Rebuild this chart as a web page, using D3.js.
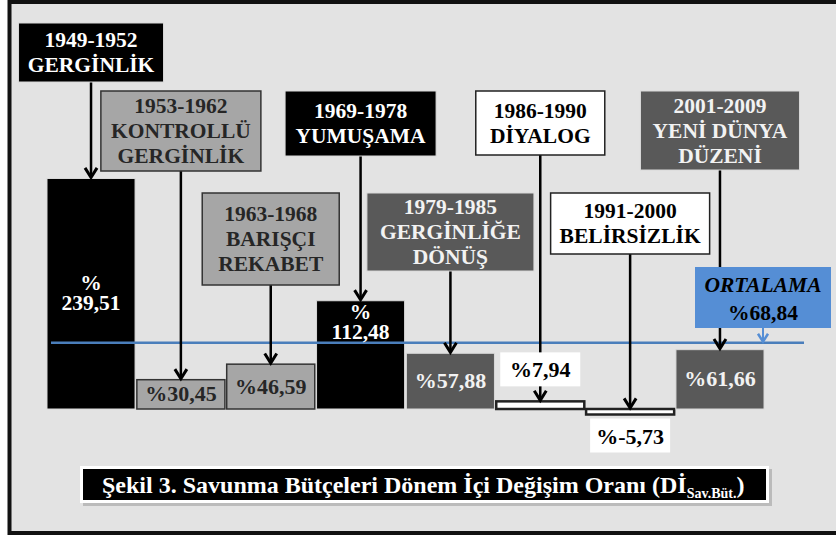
<!DOCTYPE html>
<html>
<head>
<meta charset="utf-8">
<script src="https://cdn.jsdelivr.net/npm/d3@7"></script>
<style>
  body { margin: 0; background: #fff; }
  text { font-family: "Liberation Serif", "Times New Roman", serif; font-weight: bold; }
</style>
</head>
<body>
<script>
// data
const periods = ["1949-1952", "1953-1962", "1963-1968", "1969-1978", "1979-1985", "1986-1990", "1991-2000", "2001-2009"];
const phases = [["GERGİNLİK"], ["KONTROLLÜ", "GERGİNLİK"], ["BARIŞÇI", "REKABET"], ["YUMUŞAMA"],
  ["GERGİNLİĞE", "DÖNÜŞ"], ["DİYALOG"], ["BELİRSİZLİK"], ["YENİ DÜNYA", "DÜZENİ"]];
const values = [239.51, 30.45, 46.59, 112.48, 57.88, 7.94, -5.73, 61.66];
const meanValue = 68.84;

// styles / layout of the annotation boxes
const fills = ["#000", "#a6a6a6", "#a6a6a6", "#000", "#595959", "#fff", "#fff", "#595959"];
const inks = ["#fff", "#262626", "#262626", "#fff", "#f2f2f2", "#000", "#000", "#f2f2f2"];
const edges = ["#d9d9d9", "#333", "#333", "#d9d9d9", "#d9d9d9", "#222", "#222", "#d9d9d9"];
const boxW = [145, 160, 137, 151, 167, 129, 159, 159];
const boxH = [59, 80, 92, 65, 78, 64, 61, 79];
const boxTop = [23, 91, 193, 91, 193, 91, 193, 91];
const fs = 21.5;

const fmt = v => v.toFixed(2).replace(".", ",");

const svg = d3.select("body").append("svg")
    .attr("width", 836)
    .attr("height", 535);

svg.append("rect")
    .attr("x", 9.5).attr("y", 2)
    .attr("width", 840).attr("height", 531)
    .attr("fill", "#e3e3e3")
    .attr("stroke", "#111")
    .attr("stroke-width", 4);

const x = d3.scaleBand()
    .domain(periods)
    .range([47, 764])
    .paddingInner(0.02);

const y = d3.scaleLinear()
    .domain([0, 250])
    .range([409, 168.4]);

const cx = d => x(d) + x.bandwidth() / 2;

// bars
svg.selectAll(".bar")
  .data(periods)
  .enter()
  .append("rect")
    .attr("class", "bar")
    .attr("x", d => x(d))
    .attr("y", (d, i) => y(Math.max(0, values[i])))
    .attr("width", x.bandwidth())
    .attr("height", (d, i) => Math.abs(y(values[i]) - y(0)))
    .attr("fill", (d, i) => fills[i])
    .attr("stroke", (d, i) => edges[i])
    .attr("stroke-width", (d, i) => (i == 5 || i == 6) ? 2.5 : (i == 1 || i == 2) ? 1.5 : 1);

// mean line
svg.append("line")
    .attr("x1", x.range()[0] + 4).attr("x2", 804)
    .attr("y1", y(meanValue)).attr("y2", y(meanValue))
    .attr("stroke", "#4a7ebb")
    .attr("stroke-width", 2.5);

function arrow(xp, y0, y1, color, w, head) {
  svg.append("line")
      .attr("x1", xp).attr("x2", xp)
      .attr("y1", y0).attr("y2", y1 - 1)
      .attr("stroke", color)
      .attr("stroke-width", w);
  svg.append("path")
      .attr("d", `M${xp - head},${y1 - head * 1.6}L${xp},${y1}L${xp + head},${y1 - head * 1.6}`)
      .attr("fill", "none")
      .attr("stroke", color)
      .attr("stroke-width", w + 0.5);
}

// arrows from period boxes to bars
periods.forEach((p, i) => {
  arrow(cx(p), boxTop[i] + boxH[i], y(Math.max(0, values[i])) - 1, "#000", 2.5, 6);
});

// period boxes
const boxes = svg.selectAll(".pbox")
  .data(periods)
  .enter()
  .append("g")
    .attr("class", "pbox");

boxes.append("rect")
    .attr("x", (d, i) => cx(d) - boxW[i] / 2)
    .attr("y", (d, i) => boxTop[i])
    .attr("width", (d, i) => boxW[i])
    .attr("height", (d, i) => boxH[i])
    .attr("fill", (d, i) => fills[i])
    .attr("stroke", (d, i) => edges[i])
    .attr("stroke-width", (d, i) => (i == 5 || i == 6 || i == 1 || i == 2) ? 1.5 : 1);

boxes.each(function(d, i) {
  const lines = [d].concat(phases[i]);
  const mid = boxTop[i] + boxH[i] / 2;
  const first = mid - (lines.length - 1) * 25 / 2 + 7;
  d3.select(this).selectAll("text")
    .data(lines)
    .enter()
    .append("text")
      .attr("x", cx(d))
      .attr("y", (t, j) => first + j * 25)
      .attr("text-anchor", "middle")
      .attr("font-size", fs)
      .attr("fill", inks[i])
      .text(t => t);
});

// value labels
periods.forEach((p, i) => {
  const v = values[i];
  const top = y(Math.max(0, v)), bot = y(Math.min(0, v));
  if (v > 100) {
    const mid = i == 3 ? top + 22 : (top + bot) / 2;
    const t = svg.append("text").attr("x", cx(p)).attr("y", mid - 4)
        .attr("text-anchor", "middle").attr("font-size", fs).attr("fill", "#fff");
    t.append("tspan").attr("x", cx(p)).text("%");
    t.append("tspan").attr("x", cx(p)).attr("dy", 20).text(fmt(v));
  } else if (Math.abs(v) > 20) {
    svg.append("text").attr("x", cx(p)).attr("y", (top + bot) / 2 + 7)
        .attr("text-anchor", "middle").attr("font-size", 22).attr("fill", inks[i]).text("%" + fmt(v));
  } else {
    // small bars get a white tag above (positive) or below (negative)
    const by = v > 0 ? top - 49 : bot + 4;
    svg.append("rect")
        .attr("x", cx(p) - 40).attr("y", by)
        .attr("width", 80).attr("height", 34)
        .attr("fill", "#fff");
    svg.append("text").attr("x", cx(p)).attr("y", by + 25)
        .attr("text-anchor", "middle").attr("font-size", 22).attr("fill", "#000").text("%" + fmt(v));
  }
});

// mean box
const mx = 763;
svg.append("rect")
    .attr("x", mx - 68).attr("y", 267)
    .attr("width", 136).attr("height", 61)
    .attr("fill", "#558ed5");
svg.append("text").attr("x", mx).attr("y", 292)
    .attr("text-anchor", "middle").attr("font-size", fs).attr("font-style", "italic")
    .attr("fill", "#000").text("ORTALAMA");
svg.append("text").attr("x", mx).attr("y", 320)
    .attr("text-anchor", "middle").attr("font-size", fs)
    .attr("fill", "#000").text("%" + fmt(meanValue));
arrow(mx, 328, y(meanValue) - 1, "#558ed5", 2, 5);

// caption
svg.append("rect")
    .attr("x", 83).attr("y", 469).attr("width", 689).attr("height", 37)
    .attr("fill", "#a0a0a0").attr("opacity", 0.6);
svg.append("rect")
    .attr("x", 80).attr("y", 466).attr("width", 689).attr("height", 37)
    .attr("fill", "#fff");
svg.append("rect")
    .attr("x", 83).attr("y", 469).attr("width", 683).attr("height", 31)
    .attr("fill", "#000");
const cap = svg.append("text")
    .attr("x", 102).attr("y", 493)
    .attr("font-size", 24)
    .attr("fill", "#fff");
cap.append("tspan").text("Şekil 3. Savunma  Bütçeleri Dönem İçi Değişim Oranı (Dİ");
cap.append("tspan").attr("font-size", 14).attr("dy", 5).text("Sav.Büt.");
cap.append("tspan").attr("dy", -5).text(")");
</script>
</body>
</html>
